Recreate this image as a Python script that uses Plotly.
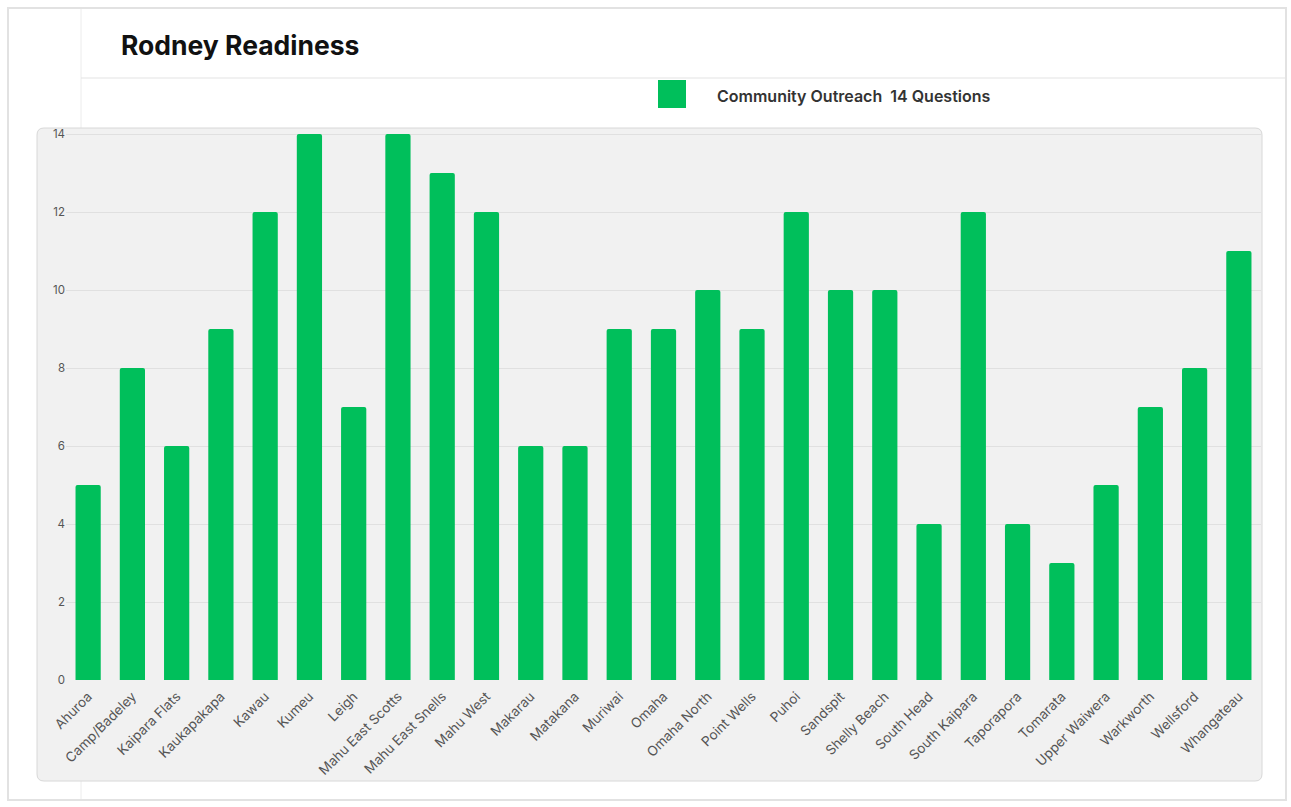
import plotly.graph_objects as go

# Rodney readiness scores per community area (out of 14 questions)
areas = [
    "Ahuroa", "Camp/Badeley", "Kaipara Flats", "Kaukapakapa", "Kawau", "Kumeu",
    "Leigh", "Mahu East Scotts", "Mahu East Snells", "Mahu West", "Makarau",
    "Matakana", "Muriwai", "Omaha", "Omaha North", "Point Wells", "Puhoi",
    "Sandspit", "Shelly Beach", "South Head", "South Kaipara", "Taporapora",
    "Tomarata", "Upper Waiwera", "Warkworth", "Wellsford", "Whangateau",
]
outreach_scores = [5, 8, 6, 9, 12, 14, 7, 14, 13, 12, 6, 6, 9, 9, 10, 9, 12,
                   10, 10, 4, 12, 4, 3, 5, 7, 8, 11]
y_ticks = [0, 2, 4, 6, 8, 10, 12, 14]

series_name = "Community Outreach  14 Questions"
title_text = "Rodney Readiness"

W, H = 1291, 807
GREEN = "#00bf5b"
FONT = "Inter, Lato, 'Noto Sans', sans-serif"


def px(x):
    return x / W


def py(y):
    return 1 - y / H


def rounded_rect(x0, y0, x1, y1, r):
    """Rounded rectangle path in paper coordinates from pixel bounds."""
    pts = [
        f"M {px(x0 + r)},{py(y0)}",
        f"L {px(x1 - r)},{py(y0)}",
        f"Q {px(x1)},{py(y0)} {px(x1)},{py(y0 + r)}",
        f"L {px(x1)},{py(y1 - r)}",
        f"Q {px(x1)},{py(y1)} {px(x1 - r)},{py(y1)}",
        f"L {px(x0 + r)},{py(y1)}",
        f"Q {px(x0)},{py(y1)} {px(x0)},{py(y1 - r)}",
        f"L {px(x0)},{py(y0 + r)}",
        f"Q {px(x0)},{py(y0)} {px(x0 + r)},{py(y0)}",
        "Z",
    ]
    return " ".join(pts)


fig = go.Figure()
fig.add_trace(go.Bar(
    x=areas,
    y=outreach_scores,
    name=series_name,
    marker=dict(color=GREEN, line=dict(width=0), cornerradius=2),
    showlegend=False,
    hovertemplate="%{x}: %{y}<extra></extra>",
))

# plot area in pixels
plot_left, plot_right = 66, 1261
plot_top, plot_bottom = 128, 680
ymax = 14 + (134 - plot_top) / ((plot_bottom - 134) / 14)

shapes = [
    # outer card frame
    dict(type="rect", xref="paper", yref="paper",
         x0=px(8), x1=px(1286), y0=py(8), y1=py(800),
         line=dict(color="#e2e2e2", width=2), fillcolor="white", layer="below"),
    # left divider
    dict(type="line", xref="paper", yref="paper",
         x0=px(81), x1=px(81), y0=py(9), y1=py(799),
         line=dict(color="#ececec", width=1), layer="below"),
    # header divider
    dict(type="line", xref="paper", yref="paper",
         x0=px(81), x1=px(1285), y0=py(78), y1=py(78),
         line=dict(color="#e3e3e3", width=1), layer="below"),
    # chart panel
    dict(type="path", xref="paper", yref="paper",
         path=rounded_rect(37, 128, 1262, 781, 7),
         line=dict(color="#d8d8d8", width=1), fillcolor="#f1f1f1", layer="below"),
    # legend swatch
    dict(type="rect", xref="paper", yref="paper",
         x0=px(658), x1=px(686), y0=py(80), y1=py(108),
         line=dict(width=0), fillcolor=GREEN),
]

annotations = [
    dict(text=title_text, xref="paper", yref="paper",
         x=px(119), y=py(45), xanchor="left", yanchor="middle",
         showarrow=False,
         font=dict(family=FONT, size=26.5, color="#111111", weight=700)),
    dict(text=series_name.replace("  ", "&nbsp;&nbsp;"),
         xref="paper", yref="paper",
         x=px(715), y=py(96), xanchor="left", yanchor="middle",
         showarrow=False,
         font=dict(family=FONT, size=16, color="#333333", weight=600)),
]

fig.update_layout(
    width=W, height=H,
    margin=dict(l=0, r=0, t=0, b=0),
    autosize=False,
    paper_bgcolor="white",
    plot_bgcolor="rgba(0,0,0,0)",
    bargap=0.43,
    shapes=shapes,
    annotations=annotations,
    font=dict(family=FONT, color="#555555"),
    xaxis=dict(
        domain=[px(plot_left), px(plot_right)],
        tickangle=-45,
        tickfont=dict(family=FONT, size=13.5, color="#555555"),
        ticklabelstandoff=5,
        showgrid=False, zeroline=False, showline=False, ticks="",
        automargin=False,
    ),
    yaxis=dict(
        domain=[py(plot_bottom), py(plot_top)],
        range=[0, ymax],
        tickvals=y_ticks,
        tickfont=dict(family=FONT, size=11.5, color="#555555"),
        showgrid=True, gridcolor="#e0e0e0", gridwidth=1,
        zeroline=False, showline=False, ticks="",
        automargin=False,
    ),
)

fig.write_html("out.html")
